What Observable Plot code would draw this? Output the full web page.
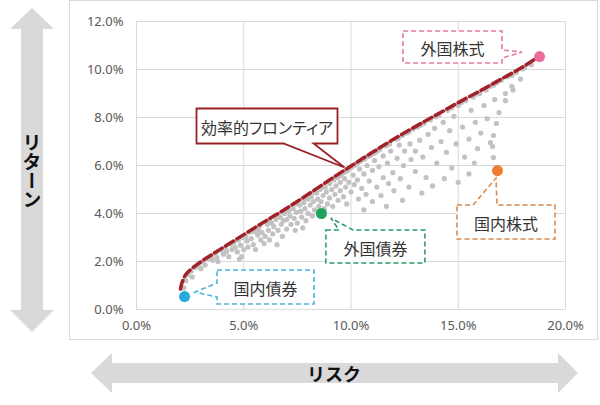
<!DOCTYPE html>
<html><head><meta charset="utf-8">
<script src="https://cdn.jsdelivr.net/npm/d3@7"></script>
<script src="https://cdn.jsdelivr.net/npm/@observablehq/plot@0.6"></script>
<style>
html,body{margin:0;padding:0;background:#fff;}
#chart{width:600px;height:405px;position:relative;overflow:hidden;}
</style></head><body><div id="chart"></div>
<script>
// ---- data ----
const xTicks = [0, 5, 10, 15, 20];
const yTicks = [0, 2, 4, 6, 8, 10, 12];
const xAxisTitle = "リスク";
const yAxisTitle = "リターン";
const frontierLabel = "効率的フロンティア";

const frontierRisk   = [2.05, 2.1, 2.2, 2.35, 2.6, 3.1, 3.8, 5.0, 6.1, 7.0, 8.0, 9.0, 10.0, 11.0, 12.0, 13.0, 14.0, 15.0, 16.0, 17.0, 18.0, 18.75];
const frontierReturn = [0.85, 1.05, 1.3, 1.52, 1.72, 2.05, 2.45, 3.12, 3.73, 4.22, 4.8, 5.4, 5.98, 6.55, 7.1, 7.62, 8.12, 8.62, 9.1, 9.6, 10.1, 10.54];

const assetNames  = ["国内債券", "外国債券", "国内株式", "外国株式"];
const assetRisk   = [2.24, 8.62, 16.83, 18.79];
const assetReturn = [0.54, 4.0, 5.79, 10.54];

const portfolios = [
 [2.2,0.9],[2.3,1.2],[2.4,1.45],[2.55,1.6],[2.6,1.35],
 [2.75,1.75],[2.9,1.85],[3.0,1.7],[3.1,1.98],[3.2,1.85],
 [3.35,2.12],[3.5,2.2],[3.55,2.05],[3.7,2.32],[3.75,2.15],[3.8,2.0],
 [3.95,2.47],[4.05,2.3],[4.15,2.58],[4.2,2.42],[4.3,2.2],[4.4,2.72],[4.45,2.5],
 [4.55,2.8],[4.6,2.58],[4.7,2.4],[4.75,2.9],[4.8,2.1],[4.85,2.68],[4.9,2.2],[4.95,3.0],[5.0,2.5],
 [5.1,3.05],[5.15,2.85],[5.2,2.6],[5.3,3.22],[5.35,2.95],[5.45,2.7],[5.5,3.25],[5.55,2.5],
 [5.65,3.1],[5.75,3.48],[5.7,3.3],[5.8,2.9],[5.85,3.2],[5.95,2.75],[6.0,3.05],
 [6.1,3.55],[6.2,3.72],[6.15,3.3],[6.2,2.9],[6.3,3.6],[6.35,3.15],[6.4,3.45],[6.5,3.75],[6.55,2.7],[6.6,3.95],[6.6,3.3],
 [6.7,3.85],[6.75,3.55],[6.8,3.05],[6.85,3.7],[6.9,4.0],[7.0,3.35],[7.0,4.15],[7.0,3.75],
 [7.1,4.1],[7.15,3.9],[7.2,3.55],[7.3,4.2],[7.35,3.8],[7.4,4.4],[7.4,3.3],[7.45,4.05],[7.5,3.6],
 [7.6,4.35],[7.65,4.1],[7.7,3.85],[7.75,3.4],[7.8,4.62],[7.8,4.45],[7.85,4.2],[7.9,3.7],[8.0,4.0],[8.0,4.6],
 [8.1,4.35],[8.15,4.7],[8.2,3.9],[8.25,4.5],[8.3,4.15],[8.4,4.85],[8.45,4.6],[8.5,4.3],
 [8.55,5.0],[8.6,4.5],[8.7,4.75],[8.75,4.2],[8.8,5.1],[8.85,4.9],[8.9,4.4],[9.0,5.25],[9.0,4.65],
 [9.1,5.0],[9.15,4.3],[9.2,5.4],[9.25,4.8],[9.3,5.15],[9.4,4.55],[9.45,5.55],[9.5,5.3],[9.5,4.95],
 [9.6,5.7],[9.65,4.7],[9.7,5.45],[9.75,5.1],[9.8,4.4],[9.85,5.8],[9.9,5.3],[10.0,5.92],[10.0,4.9],
 [10.1,5.6],[10.15,5.2],[10.2,6.02],[10.3,5.4],[10.35,4.6],[10.4,5.85],[10.45,6.18],[10.5,5.05],
 [10.6,5.65],[10.65,6.28],[10.7,4.8],[10.75,6.0],[10.85,5.35],[10.9,6.42],[11.0,5.8],[11.0,4.5],
 [11.1,6.2],[11.15,6.55],[11.2,5.1],[11.3,5.95],[11.35,6.68],[11.4,4.75],[11.5,5.5],[11.5,6.4],
 [11.6,6.82],[11.7,6.1],[11.75,5.25],[11.8,6.9],[11.85,6.6],[11.95,5.7],[12.0,4.95],
 [12.1,7.1],[12.15,6.3],[12.25,6.85],[12.3,5.45],[12.4,7.25],[12.45,6.0],[12.5,6.6],
 [12.6,7.35],[12.7,5.1],[12.75,6.9],[12.8,6.25],[12.9,7.52],[13.0,5.75],[13.0,6.6],
 [13.1,7.6],[13.2,7.05],[13.3,4.85],[13.35,6.35],[13.4,7.75],[13.5,5.5],
 [13.6,7.3],[13.7,7.9],[13.75,6.75],[13.8,5.15],[13.9,7.55],[14.0,6.1],
 [14.1,8.1],[14.2,7.0],[14.3,7.8],[14.35,5.45],[14.45,6.55],[14.5,8.3],
 [14.6,7.45],[14.7,5.9],[14.8,8.05],[14.9,6.9],[15.0,5.3],[15.0,8.5],
 [15.2,7.6],[15.3,6.35],[15.35,8.7],[15.5,7.1],[15.5,5.65],[15.6,8.3],
 [15.7,8.85],[15.75,6.1],[15.8,7.8],[15.9,6.7],[16.0,9.0],[16.05,7.35],
 [16.2,8.5],[16.3,9.15],[16.35,7.95],[16.5,6.95],[16.5,9.3],
 [16.7,8.75],[16.8,9.45],[16.9,8.2],[17.0,9.55],
 [17.2,9.0],[17.3,9.7],[17.5,9.3],
 [17.7,9.88],[17.9,9.6],[18.1,10.1],[18.4,10.2],
 [17.55,9.15],[17.2,8.7],[16.78,7.75],[16.64,7.25],[16.6,6.79],[16.64,6.33],
 [8.3,4.88],[8.65,5.08],[9.35,5.5],[9.7,5.72],[10.1,5.98],[10.55,6.25],[11.05,6.5],[11.25,6.62],
 [11.7,6.85],[12.2,7.13],[12.7,7.4],[13.25,7.68],[13.95,8.03],[14.7,8.4],[15.15,8.62],[15.9,8.98],
 [16.65,9.35],[17.5,9.75],[18.0,10.02],[9.2,5.45],[9.55,5.62],[10.3,6.1],[10.8,6.38],
 [10.6,4.15],[11.65,4.3],[12.4,4.55]
];

// ---- styles ----
const assetColor = {"国内債券":"#27a9df","外国債券":"#1fa35b","国内株式":"#ed7d31","外国株式":"#e96c9c"};
const calloutStroke = {"国内債券":"#4ab3de","外国債券":"#2a9a68","国内株式":"#dd8a4c","外国株式":"#e57ba8"};
const JP = "'Noto Sans CJK JP','Noto Sans',sans-serif";

const frontier = frontierRisk.map((x, i) => ({x, y: frontierReturn[i]}));
const cloud = portfolios.map(([x, y]) => ({x, y}));
const assets = assetNames.map((name, i) => ({name, x: assetRisk[i], y: assetReturn[i]}));
const pct = d => d.toFixed(1) + "%";

const chart = Plot.plot({
  width: 600, height: 405,
  marginLeft: 136, marginRight: 35, marginTop: 21, marginBottom: 96,
  style: {fontFamily: "'Noto Sans',sans-serif", fontSize: "13px", background: "transparent", overflow: "visible"},
  x: {domain: [0, 20]},
  y: {domain: [0, 12]},
  color: {type: "identity"},
  marks: [
    Plot.gridX(xTicks, {stroke: "#d9d9d9", strokeOpacity: 1}),
    Plot.gridY(yTicks, {stroke: "#d9d9d9", strokeOpacity: 1}),
    Plot.axisX(xTicks, {tickSize: 0, tickPadding: 11, tickFormat: pct, color: "#595959", fontSize: 13, label: null}),
    Plot.axisY(yTicks, {tickSize: 0, tickPadding: 13, tickFormat: pct, color: "#595959", fontSize: 13, label: null}),
    Plot.dot(cloud, {x: "x", y: "y", r: 2.6, fill: "#c2c2c2", stroke: null}),
    Plot.line(frontier, {x: "x", y: "y", stroke: "#a3222a", strokeWidth: 3.5, strokeDasharray: "9,4", curve: "catmull-rom"}),
    Plot.dot(assets, {x: "x", y: "y", r: 5.5, fill: d => assetColor[d.name], stroke: null})
  ]
});
document.getElementById("chart").appendChild(chart);

const svg = d3.select(chart);
const sx = chart.scale("x"), sy = chart.scale("y");
const X = v => sx.apply(v), Y = v => sy.apply(v);

// frame behind everything
svg.insert("rect", ":first-child")
  .attr("x", 69.5).attr("y", 0.5).attr("width", 528).attr("height", 339)
  .attr("fill", "#fff").attr("stroke", "#d9d9d9");

// big arrows
const deco = svg.append("g");
deco.append("path")
  .attr("d", "M32,8 L54,29 L43,29 L43,310 L54,310 L32,332 L10,310 L21,310 L21,29 L10,29 Z")
  .attr("fill", "#d9d9d9");
deco.append("path")
  .attr("d", "M91,373 L112,353 L112,363 L558,363 L558,353 L578,373 L558,393 L558,383 L112,383 L112,393 Z")
  .attr("fill", "#d9d9d9");
deco.append("text").text(xAxisTitle)
  .attr("x", 334).attr("y", 373).attr("text-anchor", "middle").attr("dominant-baseline", "central")
  .attr("font-family", JP).attr("font-weight", 700).attr("font-size", 18).attr("fill", "#111");
deco.append("text").text(yAxisTitle)
  .attr("x", 32).attr("y", 171).attr("text-anchor", "middle")
  .style("writing-mode", "vertical-rl")
  .attr("font-family", JP).attr("font-weight", 700).attr("font-size", 19).attr("fill", "#111");

// callouts: geometry in pixel offsets relative to their anchor point
function callout(px, py, box, tail, tip, stroke, dashed, label) {
  const L = px + box[0], R = px + box[1], T = py + box[2], B = py + box[3];
  const tx = px + tip[0], ty = py + tip[1];
  let d;
  if (tail.side === "top") {
    d = `M${L},${T} H${px + tail.a} L${tx},${ty} L${px + tail.b},${T} H${R} V${B} H${L} Z`;
  } else if (tail.side === "bottom") {
    d = `M${L},${T} H${R} V${B} H${px + tail.b} L${tx},${ty} L${px + tail.a},${B} H${L} Z`;
  } else if (tail.side === "right") {
    d = `M${L},${T} H${R} V${py + tail.a} L${tx},${ty} L${R},${py + tail.b} V${B} H${L} Z`;
  } else {
    d = `M${L},${T} H${R} V${B} H${L} V${py + tail.b} L${tx},${ty} L${L},${py + tail.a} Z`;
  }
  const g = svg.append("g");
  g.append("path").attr("d", d).attr("fill", "#fff").attr("fill-opacity", 0.97)
    .attr("stroke", stroke).attr("stroke-width", dashed ? 1.6 : 1.8)
    .attr("stroke-dasharray", dashed ? "5,3" : null).attr("stroke-linejoin", "miter");
  g.append("text").text(label)
    .attr("x", (L + R) / 2).attr("y", (T + B) / 2 + 1)
    .attr("text-anchor", "middle").attr("dominant-baseline", "central")
    .attr("font-family", JP).attr("font-size", 16).attr("fill", "#333")
    .style("font-feature-settings", "'palt'");
}

const layout = {
  "国内債券": {box: [33, 130, -26, 8], tail: {side: "left", a: -13, b: 1}, tip: [11, -4]},
  "外国債券": {box: [5, 104, 17, 50], tail: {side: "top", a: 18, b: 32}, tip: [10, 5]},
  "国内株式": {box: [-40, 58, 35, 69], tail: {side: "top", a: -24, b: 0}, tip: [-1, 8]},
  "外国株式": {box: [-136, -37, -25, 7], tail: {side: "right", a: -6, b: 2}, tip: [-17, -4]}
};
assets.forEach(a => {
  const l = layout[a.name];
  callout(X(a.x), Y(a.y), l.box, l.tail, l.tip, calloutStroke[a.name], true, a.name);
});
// frontier callout anchored on the frontier curve (10% risk point)
const fa = frontier[12];
callout(X(fa.x), Y(fa.y), [-154, -13, -57, -22], {side: "bottom", a: -67, b: -37}, [-6, 2], "#9b2026", false, frontierLabel);
</script>
</body></html>
